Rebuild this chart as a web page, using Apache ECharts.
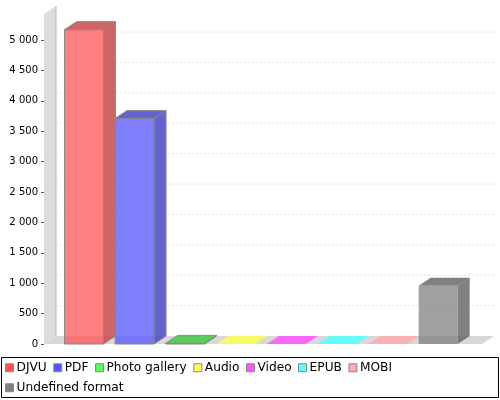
<!DOCTYPE html>
<html><head><meta charset="utf-8">
<style>html,body{margin:0;padding:0;background:#fff}#c{width:500px;height:400px}</style>
<script src="https://cdn.jsdelivr.net/npm/echarts@6/dist/echarts.min.js"></script>
</head><body><div id="c"></div>
<script>
const categories = ['DJVU','PDF','Photo gallery','Audio','Video','EPUB','MOBI','Undefined format'];
const values = [5170, 3710, 10, 0, 0, 0, 0, 960];
const colors = ['#ff5555','#5555ff','#55ff55','#ffff55','#ff55ff','#55ffff','#ffaaaa','#808080'];
const yTicks = [500,1000,1500,2000,2500,3000,3500,4000,4500,5000];
const DX = 12, DY = -8;
const BAR_HALF = 0.385;
const X_MIN = -0.79, X_MAX = 7.866, Y_MAX = 5428;

function poly(points, fill, stroke) {
  return {type:'polygon', shape:{points}, style:{fill, stroke:stroke||null, lineWidth:stroke?1:0}};
}
function shade(hex, k, a){
  const n = parseInt(hex.slice(1),16);
  return `rgba(${Math.round((n>>16&255)*k)},${Math.round((n>>8&255)*k)},${Math.round((n&255)*k)},${a})`;
}
function renderBack(params, api){
  const l = api.coord([X_MIN,0]), r = api.coord([X_MAX,0]), t = api.coord([X_MIN,Y_MAX]);
  const kids = [
    poly([[l[0],l[1]],[l[0]+DX,l[1]+DY],[t[0]+DX,t[1]+DY],[t[0],t[1]]],'#dddddd'),
    poly([[l[0],l[1]],[r[0],r[1]],[r[0]+DX,r[1]+DY],[l[0]+DX,l[1]+DY]],'#d8d8d8'),
    {type:'line',shape:{x1:l[0]+DX,y1:l[1]+DY,x2:t[0]+DX,y2:t[1]+DY},style:{stroke:'#b8b8b8',lineWidth:1}}
  ];
  yTicks.forEach(v=>{
    const a = api.coord([X_MIN,v]), b = api.coord([X_MAX,v]);
    kids.push({type:'line',shape:{x1:a[0],y1:a[1],x2:a[0]+DX,y2:a[1]+DY},style:{stroke:'#d4d4d4',lineWidth:1,lineDash:[2,2]}});
    kids.push({type:'line',shape:{x1:a[0]+DX,y1:a[1]+DY,x2:b[0]+DX,y2:b[1]+DY},style:{stroke:'#e2e2e2',lineWidth:1,lineDash:[2,2]}});
  });
  return {type:'group',children:kids};
}
function renderBar(color){
  return function(params, api){
    const i = api.value(0), v = api.value(1);
    const a = api.coord([i-BAR_HALF,0]), b = api.coord([i+BAR_HALF,v]);
    const x0=a[0], x1=b[0], y0=a[1], y1=b[1];
    if (v === 0) {
      return {type:'group',children:[
        poly([[x0,y0],[x1,y0],[x1+DX,y0+DY],[x0+DX,y0+DY]],shade(color,1,0.85))
      ]};
    }
    const edge = color==='#808080' ? null : '#8a8a8a';
    return {type:'group',children:[
      poly([[x1,y0],[x1+DX,y0+DY],[x1+DX,y1+DY],[x1,y1]],shade(color,0.78,0.82),edge),
      poly([[x0,y1],[x1,y1],[x1+DX,y1+DY],[x0+DX,y1+DY]],shade(color,0.78,0.82),edge),
      poly([[x0,y0],[x1,y0],[x1,y1],[x0,y1]],shade(color,1,0.75),edge)
    ]};
  };
}
const series = [{
  type:'custom',name:'__back',silent:true,z:1,
  data:[[0,0]],encode:{x:0,y:1},renderItem:renderBack,clip:false
}];
categories.forEach((name,i)=>{
  series.push({
    type:'custom',name,z:2+i,clip:false,
    itemStyle:{color:colors[i]},
    data:[[i,values[i]]],encode:{x:0,y:1},renderItem:renderBar(colors[i])
  });
});
const chart = echarts.init(document.getElementById('c'),null,{renderer:'canvas'});
chart.setOption({
  animation:false,
  backgroundColor:'#fff',
  textStyle:{fontFamily:'DejaVu Sans'},
  grid:{left:44,right:18,top:14,bottom:56},
  xAxis:{type:'value',min:X_MIN,max:X_MAX,show:false},
  yAxis:{type:'value',position:'left',min:0,max:Y_MAX,interval:500,
    axisLine:{show:false,onZero:false},
    axisTick:{show:true,length:3,lineStyle:{color:'#555'}},
    splitLine:{show:false},
    axisLabel:{color:'#000',fontSize:10,margin:6,fontFamily:'DejaVu Sans',
      showMaxLabel:false,padding:[2,0,0,0],
      formatter:v=>v>=1000?Math.floor(v/1000)+' '+String(v%1000).padStart(3,'0'):String(v)}
  },
  legend:{
    left:1,top:361,width:490,padding:[0,0,0,4],
    data:categories,icon:'rect',itemWidth:8,itemHeight:8,itemGap:6.5,
    itemStyle:{borderColor:'#888',borderWidth:1},
    textStyle:{fontSize:12.2,lineHeight:13.5,color:'#000',fontFamily:'DejaVu Sans',padding:[0,0,0,-2]},
    selectedMode:false
  },
  graphic:[{type:'rect',shape:{x:1.5,y:357.5,width:497,height:40},style:{fill:null,stroke:'#000',lineWidth:1},silent:true}],
  series
});
</script></body></html>
